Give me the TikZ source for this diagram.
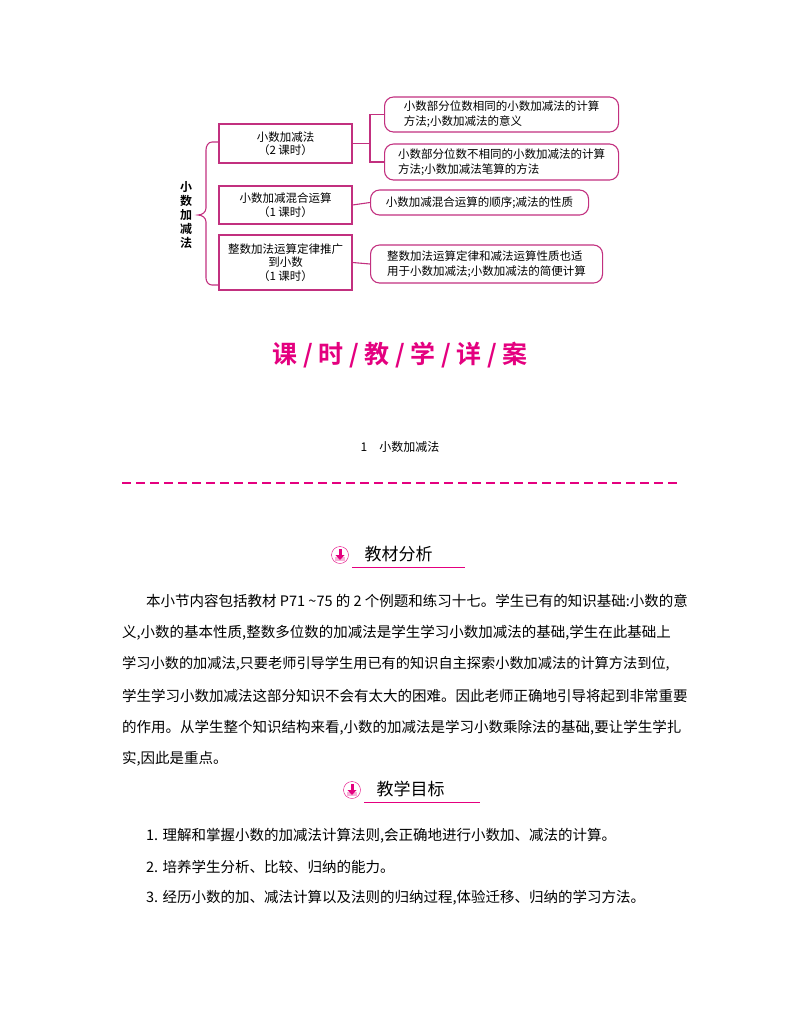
\documentclass[tikz,border=0pt]{standalone}
\usepackage{fontspec}
\setmainfont{Noto Sans CJK SC}
\newfontfamily\cjkb{Noto Sans CJK SC Bold}
\begin{document}
\begin{tikzpicture}[x=1pt,y=-1pt,
  mg/.style={draw=bx,line width=1.1pt},
  lbox/.style={mg,minimum width=133pt,align=center,font=\fontsize{11.5}{13.5}\selectfont,inner sep=1pt},
  rbox/.style={mg,rounded corners=9pt,align=left,font=\fontsize{11.5}{15}\selectfont,inner sep=3pt,anchor=west},
  body/.style={anchor=west,font=\fontsize{14.5}{16}\selectfont,inner sep=0pt},
  conn/.style={draw=bx,line width=1.1pt}]
\useasboundingbox (0,0) rectangle (800,1028);
\definecolor{tt}{HTML}{E4007F}
\definecolor{bx}{HTML}{C2307F}
\node[font=\cjkb\fontsize{12}{14}\selectfont,align=center] (lab) at (186,215) {小\\数\\加\\减\\法};
\draw[conn] (218,142) -- (212,142) to[out=180,in=90] (206,150) -- (206,208) to[out=-90,in=0] (198,215) to[out=0,in=90] (206,222) -- (206,278) to[out=-90,in=180] (212,285) -- (218,285);
\node[lbox,minimum height=39pt] (b1) at (285.5,143.5) {小数加减法\\（2 课时）};
\node[lbox,minimum height=38pt] (b2) at (285.5,205) {小数加减混合运算\\（1 课时）};
\node[lbox,minimum height=55pt] (b3) at (285.5,262.5) {整数加法运算定律推广\\到小数\\（1 课时）};
\node[rbox,minimum width=234pt,minimum height=35pt] (r1) at (384,114.5) {小数部分位数相同的小数加减法的计算\\方法;小数加减法的意义};
\node[rbox,minimum width=234pt,minimum height=36pt] (r2) at (384,162) {小数部分位数不相同的小数加减法的计算\\方法;小数加减法笔算的方法};
\node[rbox,minimum width=218pt,minimum height=25pt] (r3) at (370,202.5) {小数加减混合运算的顺序;减法的性质};
\node[rbox,minimum width=232pt,minimum height=38pt] (r4) at (370,264) {整数加法运算定律和减法运算性质也适\\用于小数加减法;小数加减法的简便计算};
\coordinate (j) at (370,143.5);
\draw[conn] (b1.east) -- (j);
\draw[conn] (r1.west) -| (j) |- (r2.west);
\draw[conn] (b2.east) -- (r3.west);
\draw[conn] (b3.east) -- (r4.west);
\node[text=tt,font=\cjkb\fontsize{25}{28}\selectfont] (title) at (400,355) {课 / 时 / 教 / 学 / 详 / 案};
\node[font=\fontsize{12}{14}\selectfont] (sec) at (400,447) {1\quad 小数加减法};
\draw[tt,line width=1.2pt,dash pattern=on 9pt off 5pt] (122,483) -- (678,483);
% heading 1
\node[draw=tt,circle,minimum size=17pt,inner sep=0pt,fill=white] (i1) at (340,555) {};
\fill[tt!30] ([shift={(-5,2)}]i1.center) rectangle ([shift={(5,6)}]i1.center);
\fill[tt] ([shift={(-1.5,-6)}]i1.center) rectangle ([shift={(1.5,0)}]i1.center);
\fill[tt] ([shift={(-4.5,0)}]i1.center) -- ([shift={(4.5,0)}]i1.center) -- ([shift={(0,5)}]i1.center) -- cycle;
\node[font=\fontsize{17}{19}\selectfont,anchor=west] (h1) at (361,554) {教材分析};
\draw[tt,line width=0.8pt] (352,567) -- (465,567);
\node[body] (p1) at (146,601) {本小节内容包括教材 P71 \textasciitilde75 的 2 个例题和练习十七。学生已有的知识基础:小数的意};
\node[body] (p2) at (122,633) {义,小数的基本性质,整数多位数的加减法是学生学习小数加减法的基础,学生在此基础上};
\node[body,font=\fontsize{14.2}{16}\selectfont] (p3) at (122,664) {学习小数的加减法,只要老师引导学生用已有的知识自主探索小数加减法的计算方法到位,};
\node[body] (p4) at (122,696) {学生学习小数加减法这部分知识不会有太大的困难。因此老师正确地引导将起到非常重要};
\node[body] (p5) at (122,728) {的作用。从学生整个知识结构来看,小数的加减法是学习小数乘除法的基础,要让学生学扎};
\node[body] (p6) at (122,759) {实,因此是重点。};
% heading 2
\node[draw=tt,circle,minimum size=17pt,inner sep=0pt,fill=white] (i2) at (352,790) {};
\fill[tt!30] ([shift={(-5,2)}]i2.center) rectangle ([shift={(5,6)}]i2.center);
\fill[tt] ([shift={(-1.5,-6)}]i2.center) rectangle ([shift={(1.5,0)}]i2.center);
\fill[tt] ([shift={(-4.5,0)}]i2.center) -- ([shift={(4.5,0)}]i2.center) -- ([shift={(0,5)}]i2.center) -- cycle;
\node[font=\fontsize{17}{19}\selectfont,anchor=west] (h2) at (373,789) {教学目标};
\draw[tt,line width=0.8pt] (364,802) -- (480,802);
\node[body] (l1) at (146,836) {1. 理解和掌握小数的加减法计算法则,会正确地进行小数加、减法的计算。};
\node[body] (l2) at (146,867) {2. 培养学生分析、比较、归纳的能力。};
\node[body] (l3) at (146,898) {3. 经历小数的加、减法计算以及法则的归纳过程,体验迁移、归纳的学习方法。};
\end{tikzpicture}
\end{document}
